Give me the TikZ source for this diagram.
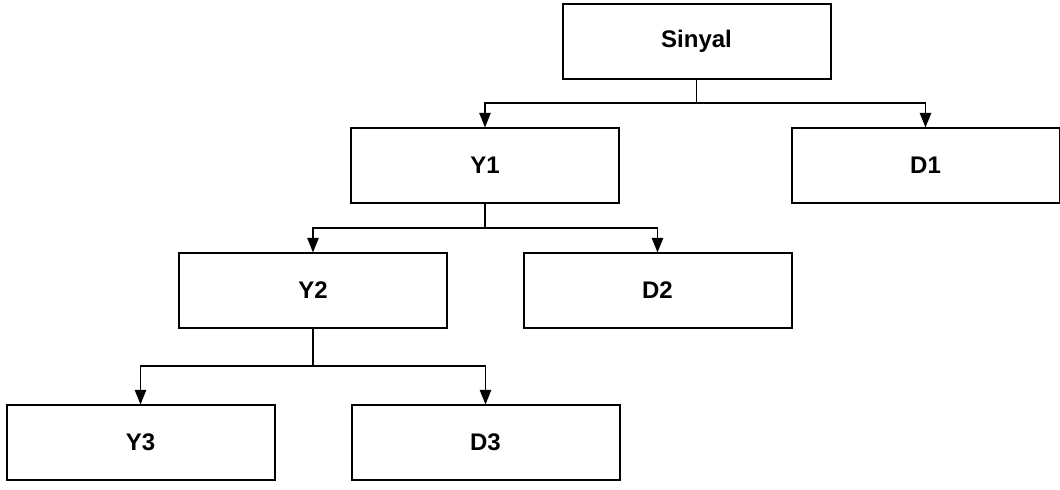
\documentclass[tikz,border=0pt]{standalone}
\usepackage{fontspec}
\setmainfont{Liberation Sans}
\usetikzlibrary{arrows.meta}
\begin{document}
\begin{tikzpicture}[x=0.75pt,y=-0.75pt,
  box/.style={draw=black, line width=1.5pt, rectangle, inner sep=0pt, outer sep=0pt,
    minimum width=268*0.75pt, minimum height=75*0.75pt,
    font=\fontsize{18}{20}\selectfont\bfseries},
  wire/.style={draw=black, line width=1.25pt},
  link/.style={wire, -{Triangle[width=8.5pt,length=11pt]}}]
\useasboundingbox (0,0) rectangle (1060,489);
% boxes
\node[box] (S)  at (696.5,41)  {Sinyal};
\node[box] (Y1) at (485,165)   {Y1};
\node[box] (D1) at (925.5,165) {D1};
\node[box] (Y2) at (313,290)   {Y2};
\node[box] (D2) at (657.5,290) {D2};
\node[box] (Y3) at (140.5,442) {Y3};
\node[box] (D3) at (485.5,442) {D3};
% branch points
\coordinate (b1) at (696.5,103);
\coordinate (b2) at (485,228);
\coordinate (b3) at (313,366);
% connectors
\draw[wire] (S.south) -- (b1);
\draw[link] (b1) -| (Y1.north);
\draw[link] (b1) -| (D1.north);
\draw[wire] (Y1.south) -- (b2);
\draw[link] (b2) -| (Y2.north);
\draw[link] (b2) -| (D2.north);
\draw[wire] (Y2.south) -- (b3);
\draw[link] (b3) -| (Y3.north);
\draw[link] (b3) -| (D3.north);
\end{tikzpicture}
\end{document}
